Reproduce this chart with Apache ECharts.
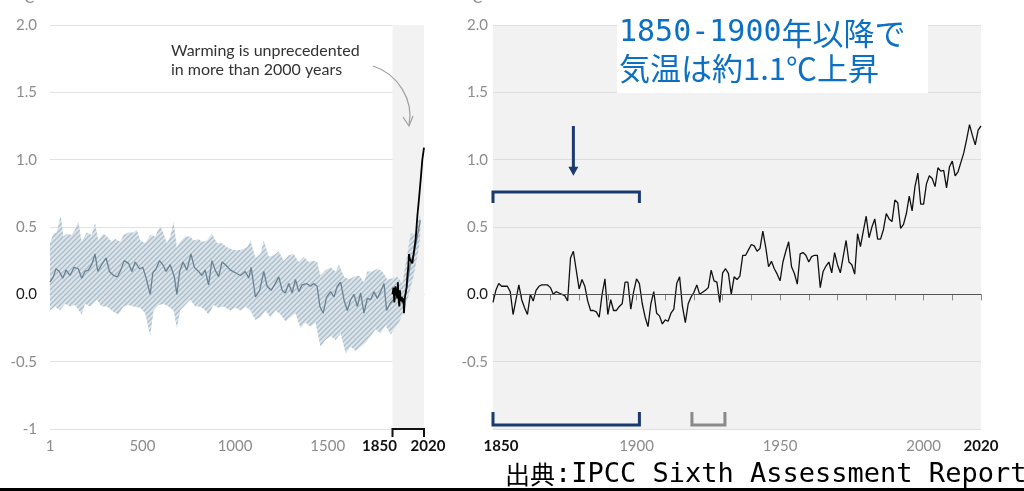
<!DOCTYPE html>
<html><head><meta charset="utf-8">
<script src="https://cdn.jsdelivr.net/npm/echarts@6/dist/echarts.min.js"></script>
<style>html,body{margin:0;padding:0;background:#fff;}#c{width:1024px;height:491px;}</style>
</head><body><div id="c"></div>
<script>
// ---------- DATA ----------
const yTicks = [-1, -0.5, 0, 0.5, 1, 1.5, 2];
const leftXLabels = [1, 500, 1000, 1500, 1850, 2020];
const leftXTicks = [500, 1000, 1500];
const rightXLabels = [1850, 1900, 1950, 2000, 2020];
const leftShadeRange = [1850, 2020];

// reconstruction 1-2000 (central estimate)
const reconYears = [1,19,33,51,70,88,109,131,154,172,190,208,226,244,259,280,304,322,344,365,383,401,425,443,461,484,502,520,542,556,574,592,610,628,650,672,686,701,719,740,762,780,803,821,839,857,875,893,911,930,948,975,1002,1029,1056,1074,1087,1110,1133,1155,1173,1195,1213,1236,1254,1271,1290,1308,1326,1344,1362,1386,1407,1425,1443,1458,1476,1494,1516,1534,1552,1570,1588,1606,1624,1642,1660,1678,1696,1714,1732,1750,1768,1786,1804,1818,1836,1854,1875,1893,1911,1930,1948,1966,1984,2000];
const reconMid = [0.09,0.13,0.19,0.17,0.12,0.18,0.14,0.20,0.19,0.12,0.17,0.18,0.22,0.30,0.17,0.22,0.27,0.17,0.14,0.13,0.18,0.25,0.23,0.17,0.24,0.19,0.20,0.12,0.00,0.16,0.19,0.25,0.22,0.17,0.22,0.13,0.00,0.17,0.24,0.18,0.30,0.20,0.17,0.14,0.18,0.07,0.25,0.18,0.13,0.24,0.22,0.18,0.16,0.14,0.17,0.12,0.20,-0.02,0.03,0.17,0.06,0.03,0.07,0.13,0.03,0.01,0.08,0.01,0.11,0.02,0.07,0.08,0.06,0.08,0.06,-0.09,-0.14,-0.02,0.02,-0.02,0.06,0.09,-0.04,-0.12,-0.04,0.00,-0.09,0.01,-0.14,-0.03,-0.04,0.02,-0.03,0.02,0.08,-0.12,-0.07,-0.04,-0.02,-0.04,-0.07,0.08,0.24,0.30,0.43,0.55];

// reconstruction uncertainty band
const upperYears = [1,19,37,59,73,91,118,136,154,172,199,226,244,262,289,308,335,353,380,398,425,452,470,488,515,542,569,596,614,632,650,668,686,704,731,758,776,803,821,848,875,903,930,957,993,1029,1065,1083,1110,1137,1155,1182,1209,1236,1263,1290,1317,1344,1371,1398,1425,1443,1461,1488,1516,1543,1561,1588,1615,1642,1669,1696,1714,1741,1768,1795,1822,1849,1876,1903,1930,1948,1975,1993,2000];
const upperVals = [0.38,0.45,0.46,0.59,0.43,0.45,0.44,0.48,0.54,0.39,0.46,0.44,0.53,0.40,0.45,0.43,0.39,0.41,0.39,0.44,0.46,0.46,0.48,0.40,0.38,0.44,0.43,0.51,0.45,0.38,0.43,0.54,0.35,0.39,0.43,0.43,0.40,0.41,0.39,0.40,0.45,0.38,0.38,0.35,0.33,0.33,0.35,0.40,0.27,0.30,0.40,0.28,0.29,0.32,0.25,0.29,0.30,0.24,0.28,0.24,0.25,0.24,0.14,0.18,0.20,0.17,0.22,0.13,0.11,0.13,0.14,0.09,0.17,0.17,0.19,0.17,0.11,0.12,0.13,0.08,0.30,0.45,0.45,0.58,0.58];
const lowerYears = [1,28,55,82,109,136,172,190,217,253,280,308,344,371,398,425,452,488,515,542,560,587,614,641,668,686,704,731,758,785,812,839,857,884,911,939,975,1002,1029,1056,1083,1110,1137,1164,1191,1218,1245,1272,1299,1326,1353,1380,1407,1434,1461,1488,1516,1543,1570,1597,1624,1651,1678,1705,1732,1759,1786,1813,1840,1858,1885,1911,1939,1966,1993,2000];
const lowerVals = [-0.12,-0.09,-0.12,-0.07,-0.09,-0.08,-0.15,-0.07,-0.09,-0.04,-0.09,-0.09,-0.13,-0.15,-0.09,-0.08,-0.09,-0.10,-0.14,-0.31,-0.12,-0.08,-0.07,-0.09,-0.12,-0.25,-0.12,-0.08,-0.04,-0.09,-0.09,-0.12,-0.15,-0.08,-0.10,-0.09,-0.12,-0.10,-0.12,-0.09,-0.12,-0.19,-0.17,-0.12,-0.17,-0.12,-0.15,-0.20,-0.17,-0.14,-0.25,-0.21,-0.24,-0.21,-0.39,-0.34,-0.31,-0.34,-0.29,-0.44,-0.39,-0.42,-0.39,-0.36,-0.31,-0.26,-0.29,-0.23,-0.30,-0.26,-0.21,-0.12,0.00,0.15,0.35,0.45];

// observed (left panel, smoothed)
const obsLeftYears = [1850,1855,1860,1866,1872,1876,1879,1883,1887,1890,1895,1900,1905,1909,1912,1916,1921,1926,1930,1935,1939,1944,1948,1957,1966,1975,1984,1993,2002,2011,2020];
const obsLeftVals = [0.00,0.05,-0.06,0.06,0.00,-0.03,0.09,-0.04,-0.09,0.03,-0.05,-0.02,-0.06,-0.03,-0.14,-0.03,0.01,0.05,0.13,0.20,0.30,0.26,0.25,0.23,0.24,0.41,0.58,0.71,0.85,1.00,1.09];

// observed annual 1850-2020 (right panel)
const obsStartYear = 1850;
const obsAnnual = [
 -0.06,0.03,0.08,0.06,0.06,0.06,0.02,-0.15,-0.04,0.07,
 -0.04,-0.10,-0.15,0.00,-0.05,0.03,0.06,0.07,0.07,0.07,
 0.05,0.00,0.02,0.01,0.00,-0.01,-0.05,0.27,0.32,0.18,
 0.04,0.11,0.06,-0.05,-0.12,-0.12,-0.13,-0.17,0.00,0.115,
 -0.15,-0.04,-0.12,-0.12,-0.09,-0.07,0.09,0.09,-0.11,0.02,
 0.115,0.08,-0.07,-0.17,-0.24,-0.07,0.02,-0.14,-0.16,-0.22,
 -0.19,-0.20,-0.14,-0.11,0.08,0.13,-0.09,-0.21,-0.07,-0.02,
 0.015,0.07,0.00,0.015,0.03,0.05,0.18,0.10,0.09,-0.06,
 0.16,0.19,0.155,0.00,0.13,0.11,0.135,0.29,0.29,0.33,
 0.37,0.36,0.32,0.34,0.47,0.35,0.205,0.245,0.19,0.15,
 0.10,0.24,0.32,0.39,0.205,0.155,0.076,0.30,0.31,0.29,
 0.24,0.28,0.29,0.29,0.05,0.17,0.21,0.24,0.16,0.31,
 0.22,0.16,0.28,0.40,0.24,0.22,0.15,0.45,0.355,0.47,
 0.58,0.42,0.50,0.56,0.41,0.41,0.48,0.60,0.56,0.54,
 0.70,0.68,0.49,0.52,0.60,0.73,0.62,0.80,0.90,0.67,
 0.67,0.82,0.88,0.86,0.80,0.94,0.915,0.92,0.79,0.945,
 0.99,0.88,0.91,0.98,1.05,1.15,1.26,1.18,1.11,1.22,
 1.25
];

// annotation anchors (data units)
const refPeriod = [1850, 1901];
const grayPeriod = [1919.3, 1930.8];
const arrowYear = 1878;

// ---------- HELPERS ----------
const zip = (xs, ys) => xs.slice(0, Math.min(xs.length, ys.length)).map((x, i) => [x, ys[i]]);
const obsRight = obsAnnual.map((v, i) => [obsStartYear + i, v]);

function hatch() {
  const c = document.createElement('canvas');
  c.width = 5; c.height = 5;
  const g = c.getContext('2d');
  g.fillStyle = '#dae3ea'; g.fillRect(0, 0, 5, 5);
  g.strokeStyle = '#a7b9c7'; g.lineWidth = 1.3;
  g.beginPath();
  g.moveTo(-1, 6); g.lineTo(6, -1);
  g.moveTo(-1, 1); g.lineTo(1, -1);
  g.moveTo(4, 6); g.lineTo(6, 4);
  g.stroke();
  return c;
}
const hatchImg = hatch();

const FONT = 'Lato, "Open Sans", sans-serif';
const gray = '#8c8c8c';

function yLabel(hideMin) {
  return {
    fontFamily: FONT, fontSize: 15, color: gray, margin: hideMin ? 5 : 13,
    formatter: v => {
      if (v === -1) return hideMin ? '' : '-1';
      if (v === 0) return '{z|0.0}';
      return v.toFixed(1);
    },
    rich: { z: { color: '#1a1a1a', fontFamily: FONT, fontSize: 15 } }
  };
}

const chart = echarts.init(document.getElementById('c'), null, { renderer: 'canvas' });

const option = {
  animation: false,
  backgroundColor: '#ffffff',
  grid: [
    { left: 50, top: 25, width: 374, height: 404, containLabel: false },
    { left: 493, top: 25, width: 488, height: 404, containLabel: false, show: true, backgroundColor: '#f2f2f2', borderWidth: 0 }
  ],
  xAxis: [
    {
      gridIndex: 0, type: 'value', min: 1, max: 2020,
      axisLine: { show: true, lineStyle: { color: '#c8c8c8', width: 1 } },
      axisTick: { show: true, customValues: leftXTicks, length: 5, lineStyle: { color: '#c8c8c8' } },
      splitLine: { show: false },
      axisLabel: {
        customValues: leftXLabels, margin: 10, fontFamily: FONT, fontSize: 15, color: gray,
        showMinLabel: true, showMaxLabel: true, hideOverlap: false,
        formatter: v => v === 1850 ? '{b1|1850}' : (v === 2020 ? '{b2|2020}' : String(v)),
        rich: {
          b1: { fontFamily: FONT, fontSize: 15, fontWeight: 'bold', color: '#111', padding: [0, 26, 0, 0] },
          b2: { fontFamily: FONT, fontSize: 15, fontWeight: 'bold', color: '#111', padding: [0, 0, 0, 8] }
        }
      }
    },
    {
      gridIndex: 1, type: 'value', min: 1850, max: 2020, interval: 10,
      axisLine: { show: true, lineStyle: { color: '#555', width: 1.2 } },
      axisTick: { show: true, length: 6, lineStyle: { color: '#8a8a8a' } },
      splitLine: { show: false },
      axisLabel: {
        margin: 10, fontFamily: FONT, fontSize: 15, color: gray,
        showMinLabel: true, showMaxLabel: true, hideOverlap: false,
        formatter: v => {
          if (rightXLabels.indexOf(v) < 0) return '';
          if (v === 1850) return '{b1|1850}';
          if (v === 2020) return '{b2|2020}';
          return String(v);
        },
        rich: {
          b1: { fontFamily: FONT, fontSize: 15, fontWeight: 'bold', color: '#111', padding: [0, 0, 0, 16] },
          b2: { fontFamily: FONT, fontSize: 15, fontWeight: 'bold', color: '#111', padding: [0, 0, 0, 0] }
        }
      }
    }
  ],
  yAxis: [
    {
      gridIndex: 0, type: 'value', min: -1, max: 2, interval: 0.5,
      axisLine: { show: false }, axisTick: { show: false },
      splitLine: { show: true, lineStyle: { color: '#e2e2e2', width: 1 } },
      axisLabel: yLabel(false)
    },
    {
      gridIndex: 1, type: 'value', min: -1, max: 2, interval: 0.5,
      axisLine: { show: false }, axisTick: { show: false },
      splitLine: { show: true, lineStyle: { color: '#dedede', width: 1 } },
      axisLabel: yLabel(true)
    }
  ],
  series: [
    {
      type: 'custom', xAxisIndex: 0, yAxisIndex: 0, z: 1, silent: true,
      data: [[leftShadeRange[0], 2]],
      renderItem: (params, api) => {
        const a = api.coord([leftShadeRange[0], 2]);
        const b = api.coord([leftShadeRange[1], -1]);
        return { type: 'rect', shape: { x: a[0], y: a[1], width: b[0] - a[0], height: b[1] - a[1] }, style: { fill: '#f2f2f2' } };
      }
    },
    {
      type: 'custom', xAxisIndex: 0, yAxisIndex: 0, z: 2, silent: true,
      data: [[1, 0]],
      renderItem: (params, api) => {
        const pts = [];
        zip(upperYears, upperVals).forEach(p => pts.push(api.coord(p)));
        zip(lowerYears, lowerVals).reverse().forEach(p => pts.push(api.coord(p)));
        return { type: 'polygon', shape: { points: pts }, style: { fill: { image: hatchImg, repeat: 'repeat' }, opacity: 0.95 } };
      }
    },
    {
      type: 'line', xAxisIndex: 0, yAxisIndex: 0, z: 3, symbol: 'none', silent: true,
      data: zip(reconYears, reconMid),
      lineStyle: { color: '#6b8190', width: 1.3 }
    },
    {
      type: 'line', xAxisIndex: 0, yAxisIndex: 0, z: 4, symbol: 'none', silent: true,
      data: zip(obsLeftYears, obsLeftVals),
      lineStyle: { color: '#000', width: 1.8 }
    },
    {
      type: 'line', xAxisIndex: 1, yAxisIndex: 1, z: 4, symbol: 'none', silent: true,
      data: obsRight,
      lineStyle: { color: '#111', width: 1.3 },
      markLine: {
        silent: true, symbol: 'none', label: { show: false },
        lineStyle: { color: '#555', width: 1.1, type: 'solid' },
        data: [{ yAxis: 0 }]
      }
    }
  ]
};
chart.setOption(option);

// ---------- ANNOTATIONS (positioned through the axes) ----------
const L = (x, y) => chart.convertToPixel({ gridIndex: 0 }, [x, y]);
const R = (x, y) => chart.convertToPixel({ gridIndex: 1 }, [x, y]);
const navy = '#1b3a6e';
const blue = '#0b70c4';

const l1 = L(leftShadeRange[0], -1), l2 = L(leftShadeRange[1], -1);
const rA = R(refPeriod[0], 0.76), rB = R(refPeriod[1], 0.76);
const rC = R(refPeriod[0], -1), rD = R(refPeriod[1], -1);
const gA = R(grayPeriod[0], -1), gB = R(grayPeriod[1], -1);
const ar1 = R(arrowYear, 1.25), ar2 = R(arrowYear, 0.88);

const richBox = {
  d: { fontFamily: '"DejaVu Sans Mono"', fontSize: 30, fill: blue, color: blue },
  n: { fontFamily: '"Noto Sans CJK JP"', fontSize: 31, fill: blue, color: blue },
  c: { fontFamily: '"Noto Sans CJK JP"', fontSize: 31, fill: blue, color: blue }
};

chart.setOption({
  graphic: [
    // bottom black rule
    { type: 'rect', shape: { x: 0, y: 488, width: 1024, height: 3 }, style: { fill: '#000' }, z: 100 },
    // unit labels (cut off at top)
    { type: 'text', x: 18, y: -9, style: { text: '°C', font: '15px ' + FONT, fill: gray }, z: 100 },
    { type: 'text', x: 466, y: -9, style: { text: '°C', font: '15px ' + FONT, fill: gray }, z: 100 },
    // left bracket on axis 1850-2020
    { type: 'polyline', shape: { points: [[l1[0], l1[1] + 8], [l1[0], l1[1]], [l2[0], l2[1]], [l2[0], l2[1] + 8]] }, style: { stroke: '#111', lineWidth: 2, fill: null }, z: 100 },
    // left annotation
    { type: 'text', x: 171, y: 41, style: { text: 'Warming is unprecedented\nin more than 2000 years', font: '16px ' + FONT, fill: '#333', lineHeight: 19 }, z: 100 },
    { type: 'bezierCurve', shape: { x1: 373, y1: 66, cpx1: 398, cpy1: 74, cpx2: 414, cpy2: 100, x2: 409, y2: 125 }, style: { stroke: '#a0a0a0', lineWidth: 1.2, fill: null }, z: 100 },
    { type: 'polyline', shape: { points: [[403, 117], [409, 126], [413, 116]] }, style: { stroke: '#a0a0a0', lineWidth: 1.2, fill: null }, z: 100 },
    // right annotation box
    { type: 'rect', shape: { x: 617, y: 17, width: 311, height: 76 }, style: { fill: '#ffffff' }, z: 100 },
    { type: 'text', x: 619, y: 18, style: { text: '{d|1850-1900}{c|年以降で}', rich: richBox }, z: 101 },
    { type: 'text', x: 619, y: 53, style: { text: '{c|気温は約}{n|1.1}{c|℃上昇}', rich: richBox }, z: 101 },
    // navy arrow
    { type: 'line', shape: { x1: ar1[0], y1: ar1[1], x2: ar2[0], y2: ar2[1] - 6 }, style: { stroke: navy, lineWidth: 3 }, z: 100 },
    { type: 'polygon', shape: { points: [[ar2[0] - 5, ar2[1] - 9], [ar2[0] + 5, ar2[1] - 9], [ar2[0], ar2[1]]] }, style: { fill: navy }, z: 100 },
    // navy bracket (upper)
    { type: 'polyline', shape: { points: [[rA[0], rA[1] + 11], [rA[0], rA[1]], [rB[0], rB[1]], [rB[0], rB[1] + 11]] }, style: { stroke: navy, lineWidth: 3, fill: null }, z: 100 },
    // navy bracket (lower)
    { type: 'polyline', shape: { points: [[rC[0], rC[1] - 17], [rC[0], rC[1] - 4], [rD[0], rD[1] - 4], [rD[0], rD[1] - 17]] }, style: { stroke: navy, lineWidth: 3, fill: null }, z: 100 },
    // gray bracket
    { type: 'polyline', shape: { points: [[gA[0], gA[1] - 17], [gA[0], gA[1] - 4], [gB[0], gB[1] - 4], [gB[0], gB[1] - 17]] }, style: { stroke: '#8a8a8a', lineWidth: 3, fill: null }, z: 100 },
    // source
    {
      type: 'text', x: 505, y: 488, z: 100,
      style: {
        text: '{a|出典}{b|:IPCC Sixth Assessment Report}', verticalAlign: 'bottom',
        rich: {
          a: { fontFamily: '"Noto Sans CJK JP"', fontSize: 25, fill: '#000', color: '#000' },
          b: { fontFamily: '"DejaVu Sans Mono"', fontSize: 27, fill: '#000', color: '#000' }
        }
      }
    }
  ]
});
</script>
</body></html>
